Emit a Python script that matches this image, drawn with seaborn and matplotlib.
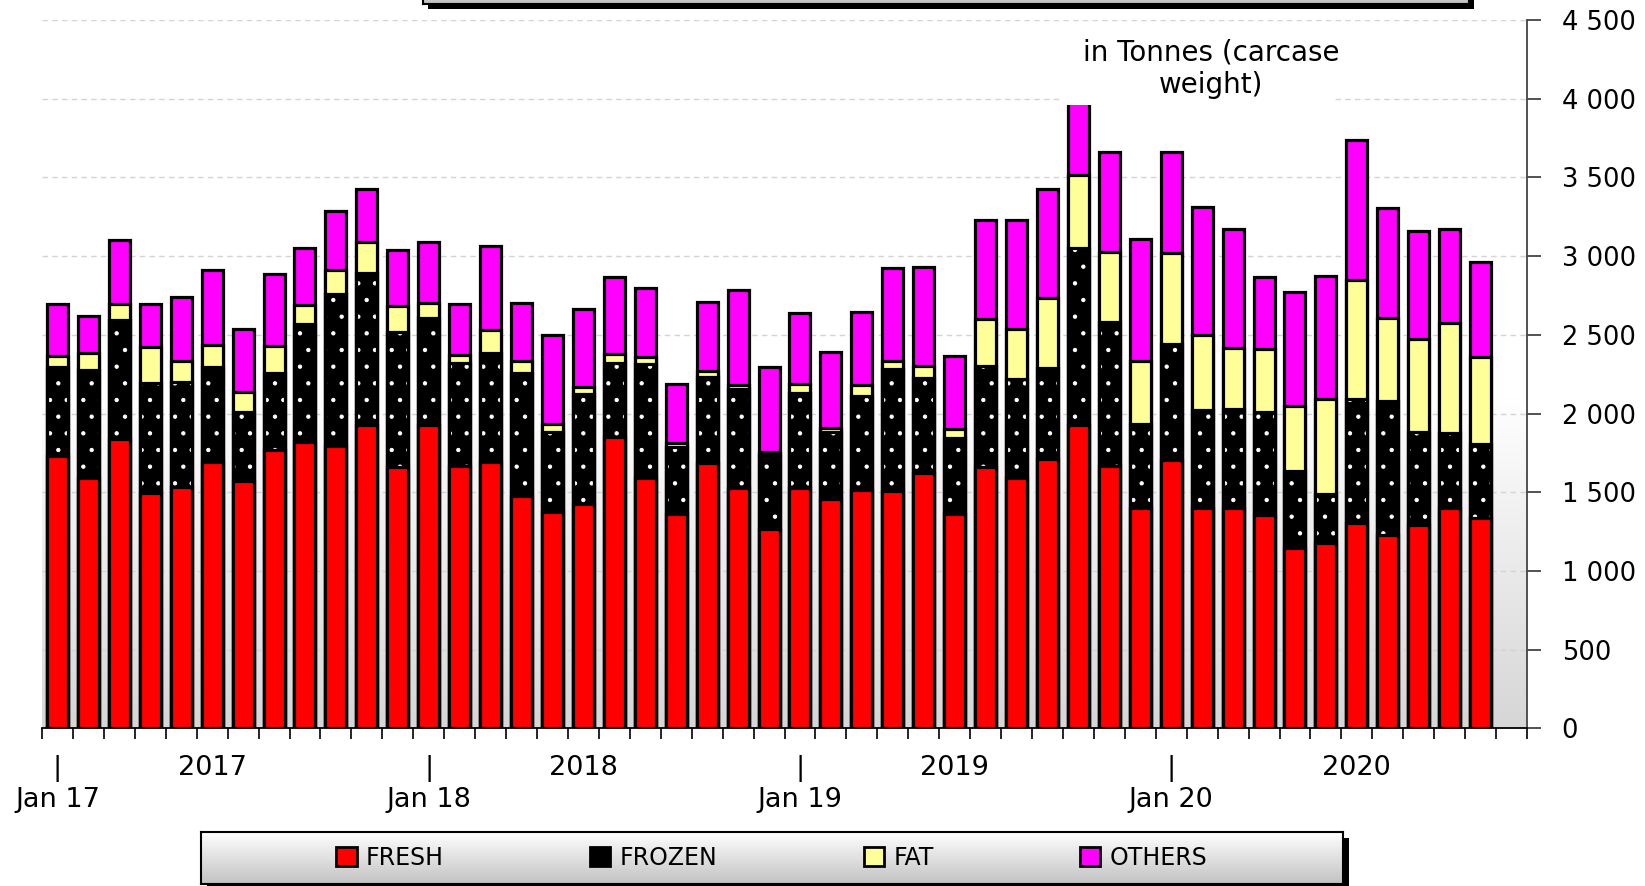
import numpy as np
import pandas as pd
import matplotlib
matplotlib.use("Agg")
import matplotlib.pyplot as plt
from matplotlib.patches import Patch, Rectangle
from matplotlib.colors import LinearSegmentedColormap
from matplotlib.ticker import FuncFormatter, FixedLocator
import seaborn as sns

# monthly values, Jan 2017 - Nov 2020 (tonnes, carcase weight)
months = list(pd.date_range("2017-01-01", periods=47, freq="MS").strftime("%b %y"))

fresh = [1730, 1588, 1838, 1497, 1531, 1694, 1571, 1768, 1821, 1794,
         1929, 1658, 1929, 1667, 1694, 1478, 1372, 1425, 1849, 1588,
         1362, 1686, 1525, 1266, 1525, 1455, 1514, 1508, 1624, 1362,
         1660, 1588, 1713, 1929, 1669, 1402, 1705, 1402, 1402, 1355,
         1148, 1175, 1302, 1228, 1292, 1402, 1338]
frozen = [567, 688, 756, 694, 671, 603, 440, 487, 747, 965,
          961, 862, 675, 656, 688, 777, 512, 699, 469, 726,
          427, 548, 628, 471, 603, 429, 597, 772, 603, 480,
          644, 629, 578, 1120, 914, 529, 736, 618, 625, 657,
          487, 314, 788, 851, 593, 476, 468]
fat = [68, 110, 101, 229, 133, 138, 127, 174, 121, 152,
       201, 163, 100, 48, 148, 80, 49, 46, 60, 42,
       21, 38, 28, 21, 59, 26, 70, 55, 74, 59,
       296, 317, 440, 466, 445, 404, 576, 478, 387, 395,
       412, 601, 758, 525, 586, 699, 555]
others = [330, 233, 407, 275, 407, 476, 396, 457, 360, 377,
          333, 355, 387, 324, 534, 369, 565, 491, 491, 439,
          375, 434, 603, 539, 449, 483, 461, 587, 632, 464,
          629, 695, 693, 635, 635, 771, 646, 816, 756, 458,
          727, 783, 889, 699, 690, 593, 603]

series_names = ["FRESH", "FROZEN", "FAT", "OTHERS"]
colors = {"FRESH": "#FF0000", "FROZEN": "#000000", "FAT": "#FFFF99", "OTHERS": "#FF00FF"}

year_pos = [5, 17, 29, 42]
year_labels = ["2017", "2018", "2019", "2020"]
jan_pos = [0, 12, 24, 36]
jan_labels = ["Jan 17", "Jan 18", "Jan 19", "Jan 20"]

df = pd.DataFrame({"month": months, "FRESH": fresh, "FROZEN": frozen,
                   "FAT": fat, "OTHERS": others})
df["frozen_top"] = df["FRESH"] + df["FROZEN"]
df["fat_top"] = df["frozen_top"] + df["FAT"]
df["total"] = df["fat_top"] + df["OTHERS"]

W, H = 1645, 886
plt.rcParams["font.family"] = ["DejaVu Sans"]
plt.rcParams["hatch.linewidth"] = 0.7


def px(x0, y0, x1, y1):
    return [x0 / W, 1 - y1 / H, (x1 - x0) / W, (y1 - y0) / H]


fig = plt.figure(figsize=(W / 100, H / 100), dpi=100)
ax = fig.add_axes(px(42, 20, 1527, 728.3))

# background gradient in lower part of plot area
grad = np.linspace(0, 1, 256).reshape(-1, 1)
bg_cmap = LinearSegmentedColormap.from_list("bg", ["#d6d6d6", "#ffffff"])
ax.imshow(grad, cmap=bg_cmap, aspect="auto", origin="lower",
          extent=(-0.5, 47.5, 0, 2100), zorder=0)

lw = 2.3
layers = [("total", colors["OTHERS"], "black", lw, None),
          ("fat_top", colors["FAT"], "black", lw, None),
          ("frozen_top", colors["FROZEN"], "white", 0, "."),
          ("frozen_top", "none", "black", lw, None),
          ("FRESH", colors["FRESH"], "black", lw, None)]
for col, fc, ec, lwd, hatch in layers:
    sns.barplot(data=df, x="month", y=col, color="grey", width=0.68,
                errorbar=None, ax=ax, zorder=3)
    for p in ax.containers[-1]:
        p.set_facecolor(fc)
        p.set_edgecolor(ec)
        p.set_linewidth(lwd)
        if hatch:
            p.set_hatch(hatch)

ax.set_xlim(-0.5, 47.5)
ax.set_ylim(0, 4500)
ax.set_xlabel("")
ax.set_ylabel("")

# y axis on the right
ax.yaxis.tick_right()
ax.set_yticks(np.arange(0, 4501, 500))
ax.yaxis.set_major_formatter(FuncFormatter(lambda v, _: f"{int(v):,}".replace(",", " ")))
ax.tick_params(axis="y", direction="out", length=10, width=1.2, colors="#333333",
               labelcolor="black", labelsize=18.5, pad=15)
ax.grid(axis="y", color="#d4d4d4", linestyle=(0, (4, 3)), linewidth=1, zorder=1)
ax.set_axisbelow(True)

# x axis: tick marks between bars, labels for year / January
ax.xaxis.set_minor_locator(FixedLocator(np.arange(-0.5, 48, 1)))
ax.tick_params(axis="x", which="minor", direction="out", length=8, width=1.2, color="black")
xt = jan_pos + year_pos
xl = ["|\n" + s for s in jan_labels] + year_labels
ax.set_xticks(xt)
ax.set_xticklabels(xl)
ax.tick_params(axis="x", which="major", length=0, labelsize=19.5, pad=19)
for t in ax.get_xticklabels():
    t.set_linespacing(1.25)
    t.set_verticalalignment("top")

for s in ["left", "top"]:
    ax.spines[s].set_visible(False)
ax.spines["bottom"].set_color("black")
ax.spines["bottom"].set_linewidth(1.3)
ax.spines["right"].set_color("#444444")
ax.spines["right"].set_linewidth(1.3)

# unit note on a white box (hides top of the tallest bar)
ax.add_patch(Rectangle((32.4, 3960), 8.8, 480, facecolor="white", edgecolor="none", zorder=5))
ax.text(37.3, 4190, "in Tonnes (carcase\nweight)", ha="center", va="center",
        fontsize=20, linespacing=1.2, zorder=6)

# title box remnant at the top
fig.patches.append(Rectangle((428 / W, 1 - 9 / H), 1046 / W, 20 / H, transform=fig.transFigure,
                             facecolor="black", edgecolor="none", zorder=-1))
tax = fig.add_axes(px(423, -10, 1469, 3.5))
tax.imshow(grad, cmap=LinearSegmentedColormap.from_list("t", ["#bdbdbd", "#f0f0f0"]),
           aspect="auto", origin="lower", extent=(0, 1, 0, 1))
tax.set_xticks([])
tax.set_yticks([])
for s in tax.spines.values():
    s.set_linewidth(1.5)

# legend box
fig.patches.append(Rectangle((207 / W, 1 - 890 / H), 1142 / W, 52 / H, transform=fig.transFigure,
                             facecolor="black", edgecolor="none", zorder=-1))
lax = fig.add_axes(px(201, 832, 1343, 884))
lax.imshow(grad, cmap=LinearSegmentedColormap.from_list("l", ["#c2c2c2", "#ffffff"]),
           aspect="auto", origin="lower", extent=(0, 1, 0, 1))
lax.set_xlim(0, 1)
lax.set_ylim(0, 1)
lax.set_xticks([])
lax.set_yticks([])
for s in lax.spines.values():
    s.set_linewidth(1.5)
handles = [Patch(facecolor=colors[n], edgecolor="black", linewidth=2) for n in series_names]
lax.legend(handles, series_names, ncol=4, loc="center", frameon=False, fontsize=17,
           handlelength=0.85, handleheight=0.85, handletextpad=0.4, columnspacing=6.2,
           borderaxespad=0)

fig.savefig("out.png", dpi=100)
